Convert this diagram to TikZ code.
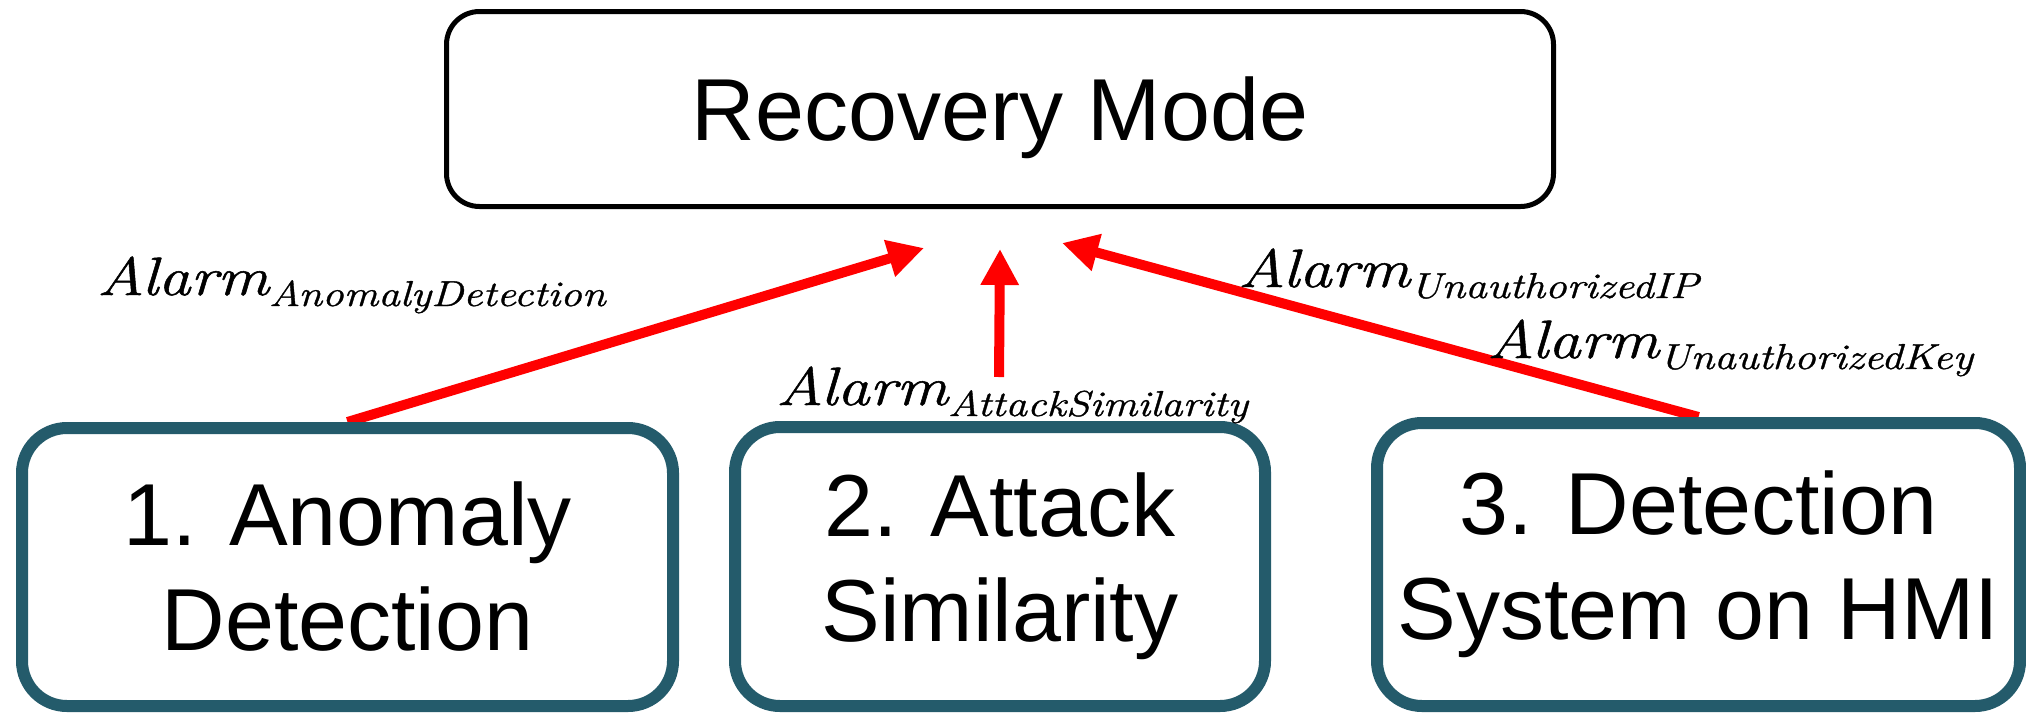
\documentclass[tikz,border=0pt]{standalone}
\usepackage{fontspec}
\setmainfont{Liberation Sans}
\newfontfamily\lmfont[FakeStretch=1.2,FakeBold=1]{Latin Modern Roman}
\usetikzlibrary{arrows.meta,backgrounds}
\definecolor{boxteal}{HTML}{245B6B}
\definecolor{alarmred}{HTML}{FF0000}
% alarm label: italic "Alarm" with a lowered, smaller subscript
\newcommand{\alarmlabel}[1]{{\lmfont\itshape\fontsize{54}{54}\selectfont Alarm\raisebox{-11pt}{\fontsize{36}{36}\selectfont #1}}}
\begin{document}
\begin{tikzpicture}[x=1pt,y=-1pt,
  stage/.style={draw=boxteal, line width=12pt, rounded corners=45pt, fill=white,
    align=center, inner sep=0pt, font=\fontsize{88}{105}\selectfont},
  modebox/.style={draw=black, line width=5pt, rounded corners=33pt, fill=white,
    inner sep=0pt, text depth=0pt, font=\fontsize{88}{105}\selectfont},
  alarm/.style={draw=alarmred, line width=10pt, -{Triangle[length=36pt,width=36pt]}},
  tag/.style={anchor=base west, inner sep=0pt}]
\useasboundingbox (0,0) rectangle (2026,712);

% target state
\node[modebox, minimum width=1107pt, minimum height=195pt] (mode) at (1000,109) {Recovery Mode};

% detection stages
\node[stage, minimum width=651pt, minimum height=278pt] (b1) at (347.5,567) {1. Anomaly\\Detection};
\node[stage, minimum width=530pt, minimum height=279pt] (b2) at (1000,566.5) {2. Attack\\Similarity};
\node[stage, minimum width=643pt, minimum height=283pt] (b3) at (1698.5,564.5) {3. Detection\\System on HMI};

% arrow ends below the recovery box
\coordinate (tip1) at (924,248);
\coordinate (tip2) at (1000,249);
\coordinate (tail2) at (999,377);
\coordinate (tip3) at (1062,243);

\begin{pgfonlayer}{background}
  \draw[alarm] (b1.north) -- (tip1);
  \draw[alarm] (tail2) -- (tip2);
  \draw[alarm] (b3.north) -- (tip3);
\end{pgfonlayer}

% alarm labels
\node[tag] (l1) at (97,295) {\alarmlabel{AnomalyDetection}};
\node[tag] (l2) at (776,405) {\alarmlabel{AttackSimilarity}};
\node[tag] (l3) at (1238,287) {\alarmlabel{UnauthorizedIP}};
\node[tag] (l4) at (1487,358) {\alarmlabel{UnauthorizedKey}};
\end{tikzpicture}
\end{document}
